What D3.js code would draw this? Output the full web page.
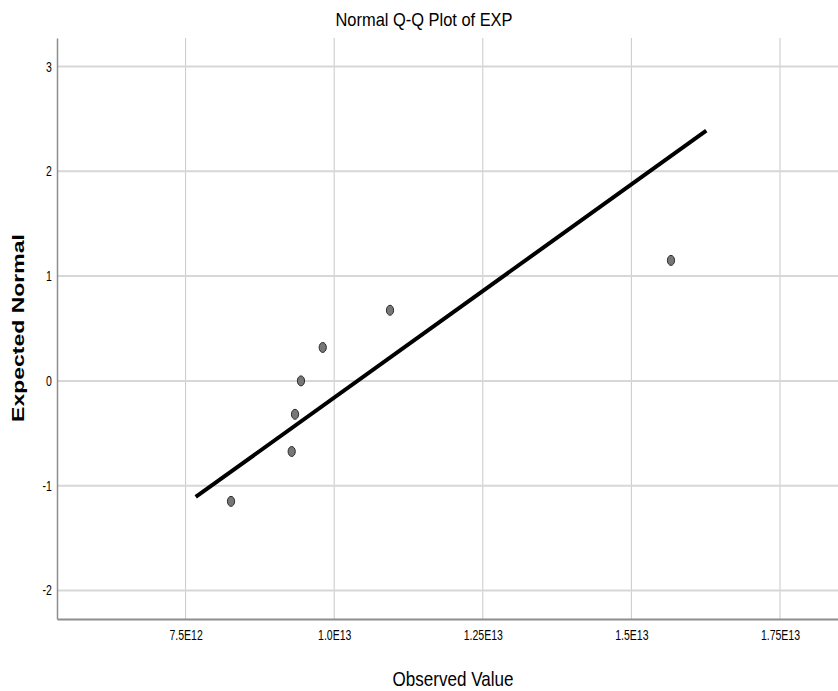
<!DOCTYPE html>
<html>
<head>
<meta charset="utf-8">
<title>Normal Q-Q Plot of EXP</title>
<script src="https://cdn.jsdelivr.net/npm/d3@7"></script>
<style>
  body { margin:0; background:#fff; }
  text { font-family:"Liberation Sans", Arial, sans-serif; fill:#000; }
</style>
</head>
<body>
<script>
const observed = [8.264e12, 9.285e12, 9.341e12, 9.441e12, 9.807e12, 1.0939e13, 1.5666e13]
// expected normal scores, one per sorted value
const expected = [-1.150, -0.674, -0.319, 0, 0.319, 0.674, 1.150]
const xTicks = [7.5e12, 1.0e13, 1.25e13, 1.5e13, 1.75e13]
const xTickLabels = ['7.5E12', '1.0E13', '1.25E13', '1.5E13', '1.75E13']
const yTicks = [-2, -1, 0, 1, 2, 3]
const yTickLabels = ['-2', '-1', '0', '1', '2', '3']
// x extent of the reference line
const lineRange = [7.67e12, 1.626e13]

const W = 838, H = 691
const plot = {left: 57, right: 838, top: 38, bottom: 619}
const squash = 0.75   // the source picture is narrowed horizontally

svg = d3.select('body').append('svg')
    .attr('width', W)
    .attr('height', H)

x = d3.scaleLinear().domain([5.3365e12, 1.8476e13]).range([plot.left, plot.right])
y = d3.scaleLinear().domain([-2.273, 3.273]).range([plot.bottom, plot.top])

// grid
svg.append('g').selectAll('line').data(xTicks).join('line')
    .attr('x1', d => x(d)).attr('x2', d => x(d))
    .attr('y1', plot.top).attr('y2', plot.bottom)
    .attr('stroke', '#c9c9c9').attr('stroke-width', 1)
svg.append('g').selectAll('line').data(yTicks).join('line')
    .attr('x1', plot.left).attr('x2', plot.right)
    .attr('y1', d => y(d)).attr('y2', d => y(d))
    .attr('stroke', '#d7d7d7').attr('stroke-width', 2)

// axes
xaxis = d3.axisBottom(x).tickValues(xTicks)
    .tickFormat((d, i) => xTickLabels[i])
    .tickSize(0).tickSizeOuter(0).tickPadding(11)
yaxis = d3.axisLeft(y).tickValues(yTicks)
    .tickFormat((d, i) => yTickLabels[i])
    .tickSize(0).tickSizeOuter(0).tickPadding(7)

gx = svg.append('g').attr('transform', `translate(0,${plot.bottom})`).call(xaxis)
gy = svg.append('g').attr('transform', `translate(${plot.left},0)`).call(yaxis)
gx.select('.domain').attr('stroke', '#8e8e8e').attr('stroke-width', 2)
gy.select('.domain').attr('stroke', '#8e8e8e').attr('stroke-width', 1.5)
svg.selectAll('.tick text')
    .style('font-family', '"Liberation Sans", Arial, sans-serif')
    .attr('font-size', 14)
    .attr('fill', '#1a1a1a')
    .attr('transform', `scale(${squash},1)`)

// reference line from mean and sd of the data
const mean = d3.mean(observed), sd = d3.deviation(observed)
svg.append('line')
    .attr('x1', x(lineRange[0])).attr('y1', y((lineRange[0] - mean) / sd))
    .attr('x2', x(lineRange[1])).attr('y2', y((lineRange[1] - mean) / sd))
    .attr('stroke', '#000').attr('stroke-width', 4)

// points
svg.append('g').selectAll('ellipse').data(observed).join('ellipse')
    .attr('cx', d => x(d))
    .attr('cy', (d, i) => y(expected[i]))
    .attr('rx', 3.6).attr('ry', 5)
    .attr('fill', '#777').attr('stroke', '#2a2a2a').attr('stroke-width', 1)

// titles
svg.append('text')
    .attr('x', 424).attr('y', 26)
    .attr('text-anchor', 'middle')
    .attr('font-size', 19)
    .attr('textLength', 177).attr('lengthAdjust', 'spacingAndGlyphs')
    .text('Normal Q-Q Plot of EXP')

svg.append('text')
    .attr('x', 453).attr('y', 686)
    .attr('text-anchor', 'middle')
    .attr('font-size', 21)
    .attr('textLength', 121).attr('lengthAdjust', 'spacingAndGlyphs')
    .text('Observed Value')

svg.append('g')
    .attr('transform', `translate(24,328) scale(0.7,1) rotate(-90)`)
  .append('text')
    .attr('text-anchor', 'middle')
    .attr('font-size', 23)
    .attr('font-weight', 'bold')
    .text('Expected Normal')
</script>
</body>
</html>
